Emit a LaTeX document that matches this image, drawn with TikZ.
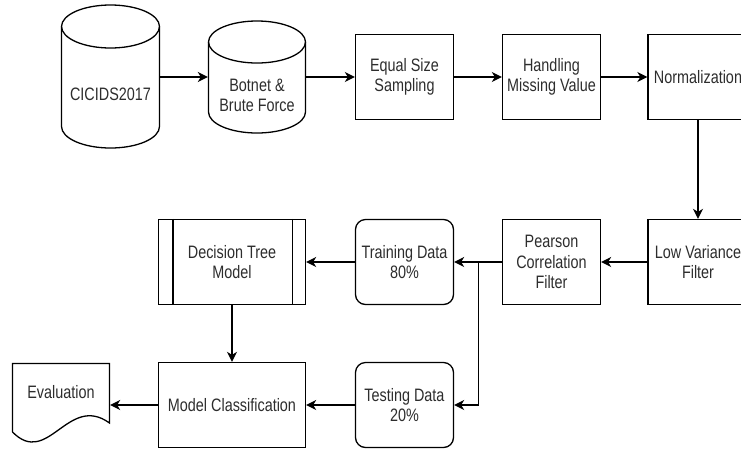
\documentclass[tikz,border=0pt]{standalone}
\usepackage{fontspec}
\newfontfamily\dfont[FakeStretch=0.8]{Liberation Sans}
\usetikzlibrary{arrows.meta,calc}
\definecolor{txt}{RGB}{45,45,45}
\begin{document}
\begin{tikzpicture}[x=1pt,y=-1pt,
  lbl/.style={font=\dfont\fontsize{18}{20.5}\selectfont, text=txt, align=center, inner sep=0pt},
  box/.style={lbl, draw, line width=1.3pt, minimum width=98pt, minimum height=85pt},
  wide/.style={box, minimum width=147pt},
  rbox/.style={box, rounded corners=10pt},
  ghost/.style={inner sep=0pt},
  shp/.style={line width=1.3pt},
  arr/.style={line width=1.4pt, -{Stealth[length=10pt,width=10pt,inset=3pt]}}]
\useasboundingbox (0,0) rectangle (741,448);
\clip (0,0) rectangle (741,448);

% CICIDS2017 cylinder
\node[ghost, minimum width=99pt, minimum height=143pt] (cic) at (110.5,77) {};
\draw[shp] (110.5,26.5) ellipse [x radius=49pt, y radius=21.5pt];
\draw[shp] (61.5,26.5) -- (61.5,126.5) arc [start angle=180, end angle=360, x radius=49pt, y radius=21.5pt] -- (159.5,26.5);
\node[lbl] (ciclabel) at (110.5,94) {CICIDS2017};

% Botnet cylinder
\node[ghost, minimum width=98pt, minimum height=112pt] (bot) at (257,77) {};
\draw[shp] (257,42) ellipse [x radius=48.5pt, y radius=21pt];
\draw[shp] (208.5,42) -- (208.5,112) arc [start angle=180, end angle=360, x radius=48.5pt, y radius=21pt] -- (305.5,42);
\node[lbl] (botlabel) at (257,95.5) {Botnet \&\\Brute Force};

% top row boxes
\node[box] (eq) at (404.5,77) {Equal Size\\Sampling};
\node[box] (hmv) at (551.5,77) {Handling\\Missing Value};
\node[box, minimum width=100pt] (norm) at (698,77) {Normalization};

% middle row
\node[box, minimum width=100pt] (lv) at (698,262) {Low Variance\\Filter};
\node[box] (pcf) at (551.5,262) {Pearson\\Correlation\\Filter};
\node[rbox] (train) at (404.5,262) {Training Data\\80\%};
\node[wide] (dtm) at (232,262) {Decision Tree\\Model};
\draw[shp] ([xshift=15pt]dtm.north west) -- ([xshift=15pt]dtm.south west);
\draw[shp] ([xshift=-14pt]dtm.north east) -- ([xshift=-14pt]dtm.south east);

% bottom row
\node[rbox] (test) at (404.5,405) {Testing Data\\20\%};
\node[wide] (mc) at (232,405) {Model Classification};
\node[ghost, minimum width=98pt, minimum height=82pt] (eval) at (61,405) {};
\draw[shp] (12.5,432) -- (12.5,363.5) -- (109.5,363.5) -- (109.5,423)
  .. controls (68,393) and (48,468) .. (12.5,432);
\node[lbl] (evallabel) at (61,392) {Evaluation};

% connectors
\draw[arr] (cic.east |- bot.west) -- (bot.west);
\draw[arr] (bot.east |- eq.west) -- (eq.west);
\draw[arr] (eq) -- (hmv);
\draw[arr] (hmv) -- (norm);
\draw[arr] (norm) -- (lv);
\draw[arr] (lv) -- (pcf);
\draw[arr] (pcf) -- (train);
\coordinate (split) at ($(train.east)+(24.5,0)$);
\draw[arr] (split) |- (test.east);
\draw[arr] (train) -- (dtm);
\draw[arr] (dtm) -- (mc);
\draw[arr] (test) -- (mc);
\draw[arr] (mc.west) -- (eval.east);
\end{tikzpicture}
\end{document}
